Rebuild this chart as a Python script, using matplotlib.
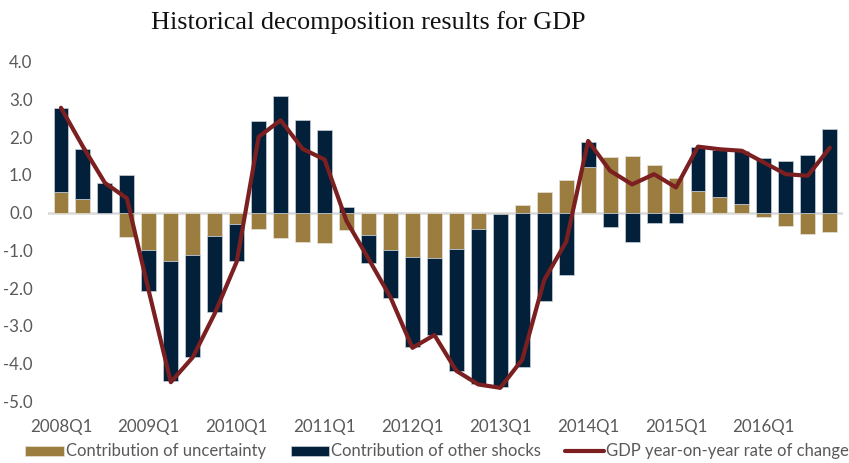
import matplotlib
matplotlib.use("Agg")
import matplotlib.pyplot as plt
import numpy as np

# =============== DATA ===============

QUARTERS = [f"{y}Q{q}" for y in range(2008, 2017) for q in range(1, 5)]

UNCERTAINTY = [0.54, 0.36, 0.00, -0.64, -1.00, -1.27, -1.12, -0.61, -0.29,
               -0.44, -0.66, -0.77, -0.79, -0.47, -0.58, -0.99, -1.17, -1.19,
               -0.96, -0.42, -0.03, 0.20, 0.55, 0.87, 1.21, 1.47, 1.50, 1.27,
               0.92, 0.57, 0.41, 0.22, -0.11, -0.34, -0.56, -0.52]

OTHER_SHOCKS = [2.24, 1.33, 0.79, 1.01, -1.08, -3.20, -2.69, -2.03, -0.99,
                2.44, 3.09, 2.45, 2.20, 0.16, -0.74, -1.26, -2.40, -2.06,
                -3.23, -4.12, -4.59, -4.09, -2.33, -1.65, 0.65, -0.39, -0.77,
                -0.26, -0.26, 1.16, 1.25, 1.41, 1.44, 1.36, 1.52, 2.21]

GDP_YOY = [2.78, 1.75, 0.79, 0.38, -2.08, -4.49, -3.83, -2.67, -1.30,
           2.01, 2.45, 1.69, 1.41, -0.22, -1.22, -2.24, -3.58, -3.24,
           -4.19, -4.55, -4.64, -3.89, -1.78, -0.77, 1.90, 1.11, 0.75,
           1.02, 0.67, 1.75, 1.68, 1.64, 1.33, 1.02, 0.98, 1.72]

Y_TICKS = [4.0, 3.0, 2.0, 1.0, 0.0, -1.0, -2.0, -3.0, -4.0, -5.0]

# =============== STYLE ===============

GOLD = "#9B7D40"
NAVY = "#02203A"
RED = "#7B1F20"
GRAY_TXT = "#595959"
FONT = "Lato"

plt.rcParams["font.family"] = [FONT, "DejaVu Sans"]

fig = plt.figure(figsize=(8.49, 4.63), dpi=100)
ax = fig.add_axes([0.0563, 0.133, 0.9366, 0.7337])

x = np.arange(len(QUARTERS))
unc = np.array(UNCERTAINTY)
oth = np.array(OTHER_SHOCKS)
# Excel style stacking: same sign stacks on top, opposite sign starts at zero
bottom_oth = np.where(np.sign(unc) == np.sign(oth), unc, 0.0)

w = 0.68
b1 = ax.bar(x, unc, width=w, color=GOLD, edgecolor="#e6e2d8", linewidth=0.5,
            zorder=2)
b2 = ax.bar(x, oth, bottom=bottom_oth, width=w, color=NAVY, edgecolor="#c9d1da",
            linewidth=0.5, zorder=2)
ax.axhline(0, color="#D9D9D9", linewidth=1.8, zorder=1)
ln, = ax.plot(x, GDP_YOY, color=RED, linewidth=3.0, solid_joinstyle="round",
              solid_capstyle="round", zorder=3)

ax.set_xlim(-0.6, len(QUARTERS) - 0.4)
ax.set_ylim(-5, 4)
ax.set_yticks(Y_TICKS)
ax.set_yticklabels([f"{v:.1f}" for v in Y_TICKS])
ax.set_xticks(x[::4])
ax.set_xticklabels(QUARTERS[::4])
ax.tick_params(axis="both", length=0, labelsize=12.2, labelcolor=GRAY_TXT)
ax.tick_params(axis="x", pad=13)
ax.tick_params(axis="y", pad=11)
for s in ax.spines.values():
    s.set_visible(False)

fig.text(0.4335, 0.952, "Historical decomposition results for GDP",
         ha="center", va="center", fontsize=18.8, family="Liberation Serif",
         color="#111111")

fig.legend([b1, b2, ln],
           ["Contribution of uncertainty", "Contribution of other shocks",
            "GDP year-on-year rate of change"],
           loc="center", bbox_to_anchor=(0.515, 0.025), ncol=3,
           frameon=False, fontsize=12, handlelength=2.3, handleheight=0.55,
           handletextpad=0.15, columnspacing=1.45, labelcolor=GRAY_TXT)

fig.savefig("out.png", dpi=100)
